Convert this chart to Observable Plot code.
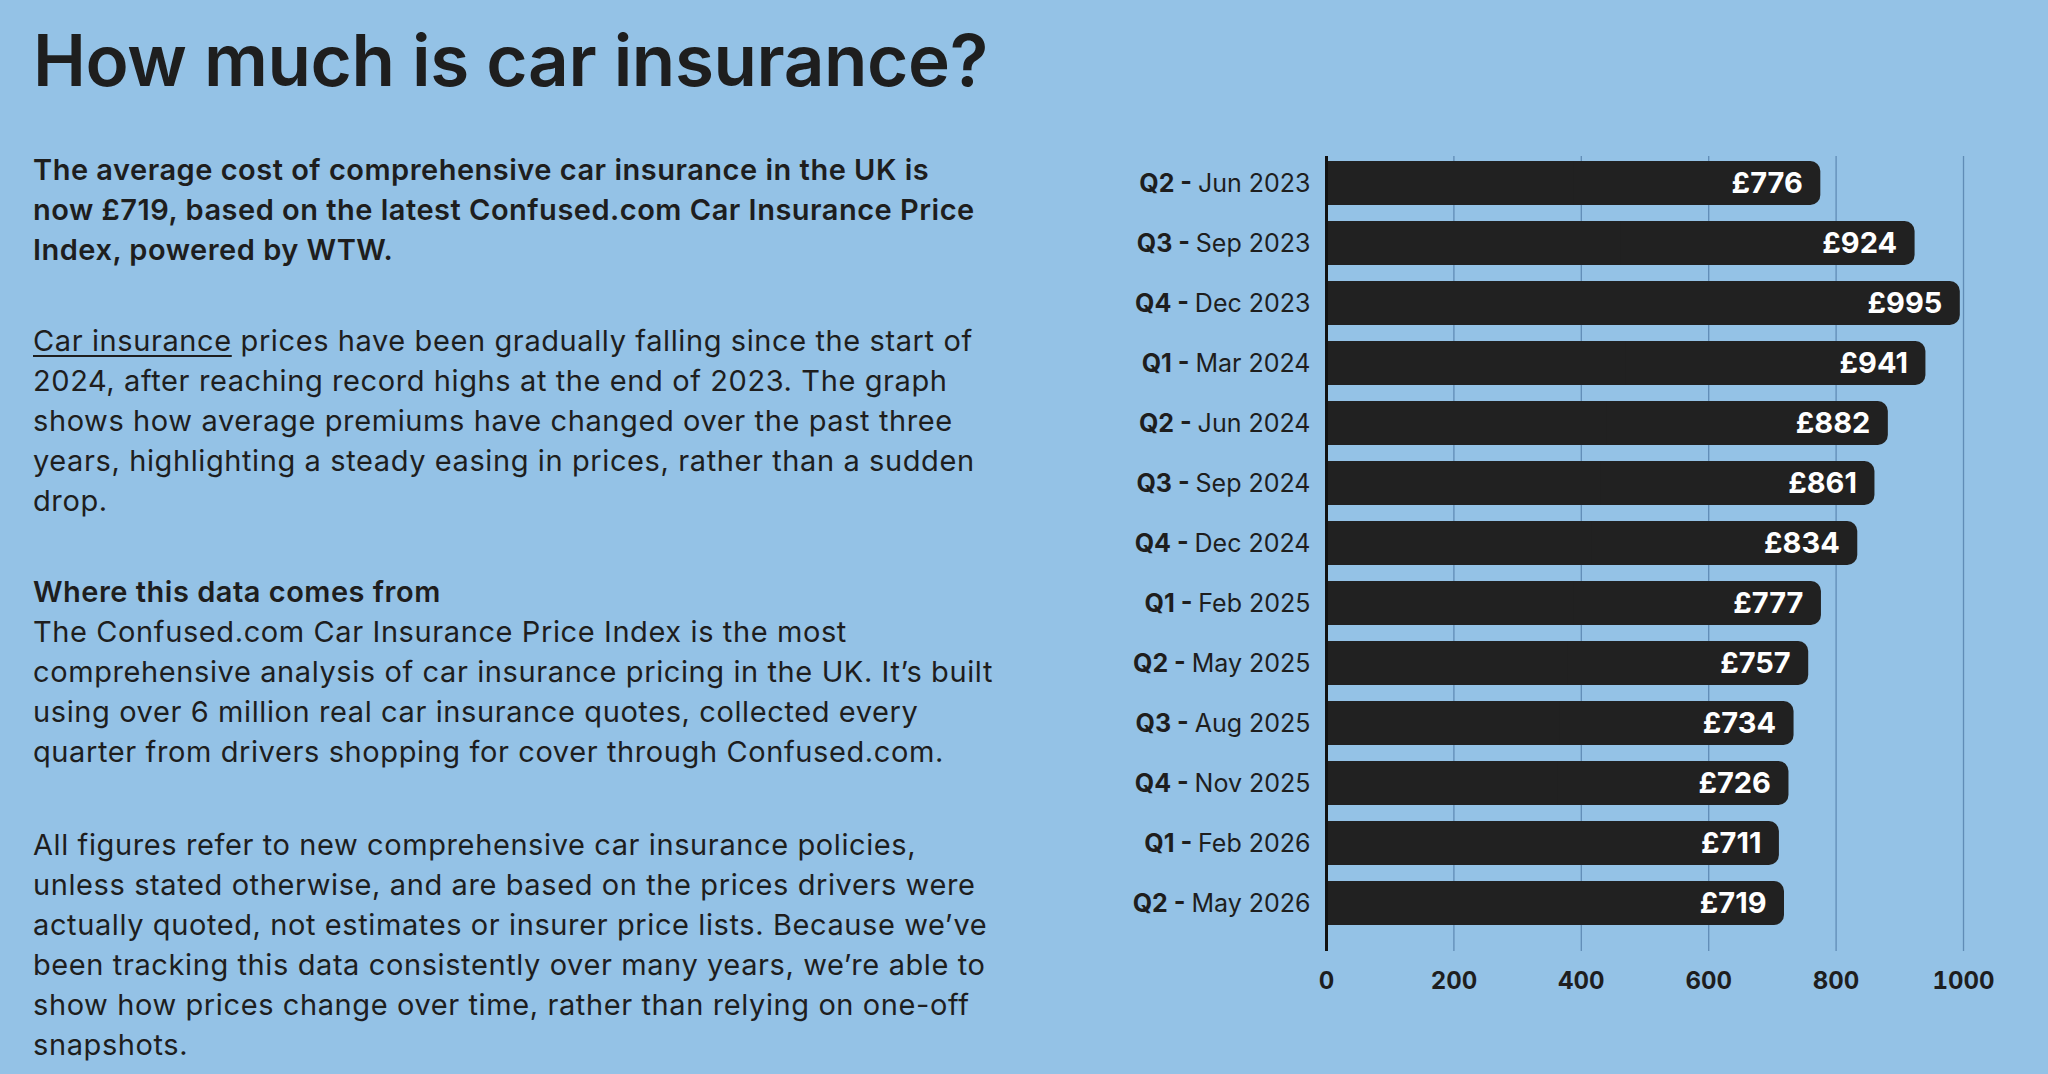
<!DOCTYPE html>
<html>
<head>
<meta charset="utf-8">
<script src="https://cdn.jsdelivr.net/npm/d3@7"></script>
<script src="https://cdn.jsdelivr.net/npm/@observablehq/plot@0.6"></script>
<style>
  html, body { margin: 0; padding: 0; background: #94c2e6; width: 2048px; height: 1074px; overflow: hidden; }
  body { font-family: Inter, "Open Sans", sans-serif; color: #1e1e1e; position: relative; }
  h1 { position: absolute; left: 33px; top: 18px; margin: 0; font-size: 71px; font-weight: 600; letter-spacing: -0.4px; line-height: 84px; }
  .blk { position: absolute; left: 33px; font-size: 29px; line-height: 40px; margin: 0; white-space: nowrap; letter-spacing: 0.6px; }
  .b { font-weight: 600; letter-spacing: 0.5px; }
  u { text-decoration-thickness: 2px; text-underline-offset: 4px; }
  #chart { position: absolute; left: 1048px; top: 114px; }
</style>
</head>
<body>
<h1>How much is car insurance?</h1>
<p class="blk b" style="top:150px">The average cost of comprehensive car insurance in the UK is<br>now £719, based on the latest Confused.com Car Insurance Price<br>Index, powered by WTW.</p>
<p class="blk" style="top:321px"><u>Car insurance</u> prices have been gradually falling since the start of<br>2024, after reaching record highs at the end of 2023. The graph<br>shows how average premiums have changed over the past three<br>years, highlighting a steady easing in prices, rather than a sudden<br>drop.</p>
<p class="blk" style="top:572px"><span class="b">Where this data comes from</span><br>The Confused.com Car Insurance Price Index is the most<br>comprehensive analysis of car insurance pricing in the UK. It’s built<br>using over 6 million real car insurance quotes, collected every<br>quarter from drivers shopping for cover through Confused.com.</p>
<p class="blk" style="top:825px">All figures refer to new comprehensive car insurance policies,<br>unless stated otherwise, and are based on the prices drivers were<br>actually quoted, not estimates or insurer price lists. Because we’ve<br>been tracking this data consistently over many years, we’re able to<br>show how prices change over time, rather than relying on one-off<br>snapshots.</p>
<div id="chart"></div>
<script>
const quarters = ["Q2","Q3","Q4","Q1","Q2","Q3","Q4","Q1","Q2","Q3","Q4","Q1","Q2"];
const periods = ["Jun 2023","Sep 2023","Dec 2023","Mar 2024","Jun 2024","Sep 2024","Dec 2024","Feb 2025","May 2025","Aug 2025","Nov 2025","Feb 2026","May 2026"];
const prices = [776, 924, 995, 941, 882, 861, 834, 777, 757, 734, 726, 711, 719];
const xTicks = [0, 200, 400, 600, 800, 1000];

const data = quarters.map((q, i) => ({label: `${q} - ${periods[i]}`, q, period: periods[i], value: prices[i]}));
const order = data.map(d => d.label);

const chart = Plot.plot({
  width: 1000,
  height: 900,
  marginLeft: 278,
  marginRight: 85,
  marginTop: 42,
  marginBottom: 63,
  style: {background: "transparent", fontFamily: "Inter, 'Open Sans', sans-serif", color: "#1e1e1e"},
  x: {domain: [0, 1000], ticks: xTicks},
  y: {domain: order, range: [43, 814], paddingInner: 0.27, paddingOuter: 0},
  marks: [
    Plot.gridX(xTicks.slice(1), {stroke: "#4f7aa6", strokeOpacity: 0.75, strokeWidth: 1.3}),
    Plot.barX(data, {x: "value", y: "label", fill: "#212121", rx: 10}),
    Plot.barX(data, {x1: 0, x2: d => d.value / 2, y: "label", fill: "#212121"}),
    Plot.ruleX([0], {stroke: "#111", strokeWidth: 3}),
    Plot.text(data, {x: "value", y: "label", text: d => `£${d.value}`, textAnchor: "end", dx: -18, fill: "#ffffff", fontSize: 29, fontWeight: 700}),
    Plot.axisX({ticks: xTicks, tickFormat: d => String(d), tickSize: 0, tickPadding: 20, fontSize: 24, fontWeight: 700, label: null}),
    Plot.axisY({tickSize: 0, tickPadding: 16, fontSize: 25, label: null})
  ]
});
document.getElementById("chart").appendChild(chart);

// style y tick labels: bold quarter prefix, regular period
d3.select(chart).selectAll('[aria-label="y-axis tick label"] text').each(function() {
  const t = d3.select(this);
  const s = t.text();
  const i = s.indexOf(" - ");
  if (i < 0) return;
  t.text(null);
  t.append("tspan").attr("font-weight", 700).text(s.slice(0, i + 2) + " ");
  t.append("tspan").attr("font-weight", 400).text(s.slice(i + 3));
});
d3.select(chart).selectAll('[aria-label="x-axis tick label"]').attr("font-weight", 700);
</script>
</body>
</html>
